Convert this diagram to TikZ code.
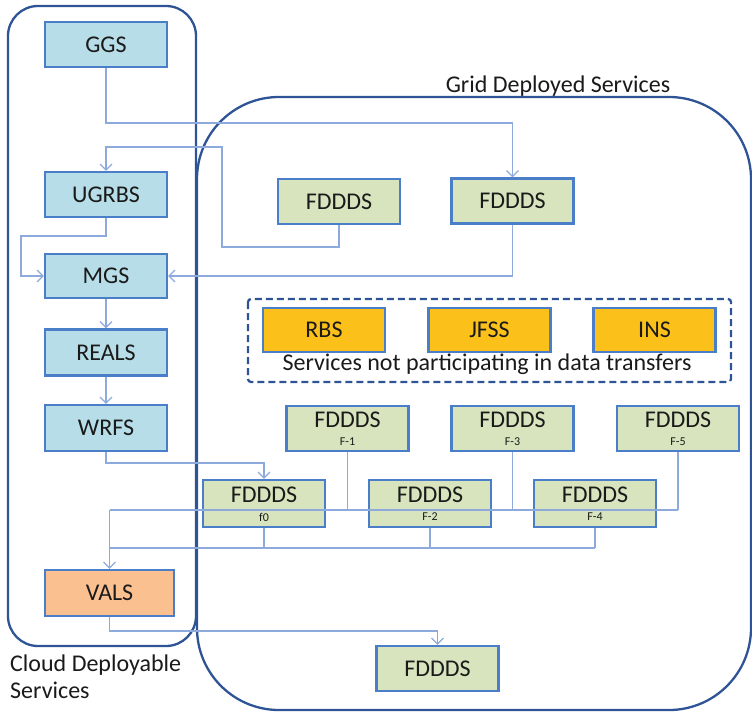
\documentclass[tikz,border=0pt]{standalone}
\usepackage{fontspec}
\setmainfont{Carlito}
\usetikzlibrary{arrows.meta,calc}
\definecolor{contblue}{HTML}{2F5496}
\definecolor{boxborder}{HTML}{4A7EC8}
\definecolor{lblue}{HTML}{B7DEE8}
\definecolor{lgreen}{HTML}{D7E4BD}
\definecolor{vorange}{HTML}{FAC090}
\definecolor{ryellow}{HTML}{FBC01A}
\definecolor{connc}{HTML}{8EA9DB}
\definecolor{txt}{HTML}{1A1A1A}
\begin{document}
\begin{tikzpicture}[x=1pt,y=-1pt,
  cont/.style={draw=contblue,line width=2.3pt},
  basebox/.style={draw=boxborder,line width=2.2pt,minimum width=122pt,minimum height=45pt,inner sep=0pt,text=txt,font=\fontsize{24}{27}\selectfont},
  bluebox/.style={basebox,fill=lblue},
  greenbox/.style={basebox,fill=lgreen},
  orangebox/.style={basebox,fill=vorange},
  yellowbox/.style={basebox,fill=ryellow},
  bigtxt/.style={inner sep=0pt,text=txt,font=\fontsize{24}{27}\selectfont},
  smalltxt/.style={inner sep=0pt,text=txt,font=\fontsize{12}{14}\selectfont},
  conn/.style={draw=connc,line width=1.2pt},
  arr/.style={conn,-{Straight Barb[length=6pt,width=12pt,line width=1.2pt]}}
]
\useasboundingbox (0,0) rectangle (752,712);

% lane coordinates
\coordinate (yA) at (0,123);
\coordinate (cB) at (222,247);
\coordinate (cC) at (222,147);
\coordinate (cD) at (21,236);
\coordinate (yE) at (0,463);
\coordinate (bus1) at (0,510);
\coordinate (bus2) at (0,548);
\coordinate (yG) at (0,631);

% containers
\draw[cont,rounded corners=30pt] (8,6) rectangle (196,646);
\draw[cont,rounded corners=82pt] (197,97) rectangle (751,710);
\node[bigtxt,anchor=base] (gridlbl) at (558,92) {Grid Deployed Services};
\node[bigtxt,anchor=base west] (cloudlbl) at (10,671) {Cloud Deployable};
\node[bigtxt,anchor=base west] (cloudlbl2) at (10,698) {Services};

% dashed group
\draw[draw=contblue,line width=2.3pt,dash pattern=on 7pt off 4pt,rounded corners=3pt] (248,299) rectangle (731,382);

% cloud boxes
\node[bluebox] (ggs) at (106,44.5) {GGS};
\node[bluebox] (ugrbs) at (106,194.5) {UGRBS};
\node[bluebox,minimum height=44pt] (mgs) at (106,276) {MGS};
\node[bluebox,minimum height=46pt] (reals) at (106,352.5) {REALS};
\node[bluebox,minimum height=46pt] (wrfs) at (106,428) {WRFS};
\node[orangebox,minimum width=129pt,minimum height=46pt] (vals) at (109.5,593) {VALS};

% grid boxes
\node[greenbox] (fd1) at (339,201.5) {FDDDS};
\node[greenbox] (fd2) at (512.5,201) {FDDDS};
\node[yellowbox,minimum height=44pt] (rbs) at (324,330) {RBS};
\node[yellowbox,minimum height=44pt] (jfss) at (489.5,330) {JFSS};
\node[yellowbox,minimum height=44pt] (ins) at (654.5,330) {INS};
\node[bigtxt] (npt) at (487,364) {Services not participating in data transfers};

\node[greenbox] (f1) at (347.5,428.5) {};
\node[greenbox] (f3) at (512.5,428.5) {};
\node[greenbox] (f5) at (678,428.5) {};
\node[greenbox,minimum height=47pt] (f0) at (264,503.5) {};
\node[greenbox,minimum height=47pt] (f2) at (430,503.5) {};
\node[greenbox,minimum height=47pt] (f4) at (595,503.5) {};
\foreach \n/\s in {f1/F-1,f3/F-3,f5/F-5,f0/f0,f2/F-2,f4/F-4}{
  \node[bigtxt] (\n t) at ($(\n.center)+(0,-8.5)$) {FDDDS};
  \node[smalltxt] (\n s) at ($(\n.center)+(0,13.5)$) {\s};
}
\node[greenbox] (fdb) at (437.5,668.5) {FDDDS};

% connectors
\draw[arr] (ggs.south) -- (ggs.south |- yA) -| (fd2.north);
\draw[arr] (fd1.south) |- (cB) -- (cC) -| (ugrbs.north);
\draw[arr] (ugrbs.south) |- (cD) |- (mgs.west);
\draw[arr] (fd2.south) |- (mgs.east);
\draw[arr] (mgs) -- (reals);
\draw[arr] (reals) -- (wrfs);
\draw[arr] (wrfs.south) -- (wrfs.south |- yE) -| (f0.north);

% buses
\draw[conn] (f1.south) -- (f1.south |- bus1);
\draw[conn] (f3.south) -- (f3.south |- bus1);
\draw[conn] (f5.south) -- (f5.south |- bus1);
\draw[conn] (f5.south |- bus1) -- (vals.north |- bus1);
\draw[conn] (f0.south) -- (f0.south |- bus2);
\draw[conn] (f2.south) -- (f2.south |- bus2);
\draw[conn] (f4.south) -- (f4.south |- bus2);
\draw[conn] (f4.south |- bus2) -- (vals.north |- bus2);
\draw[arr] (vals.north |- bus1) -- (vals.north);
\draw[arr] (vals.south) -- (vals.south |- yG) -| (fdb.north);
\end{tikzpicture}
\end{document}
